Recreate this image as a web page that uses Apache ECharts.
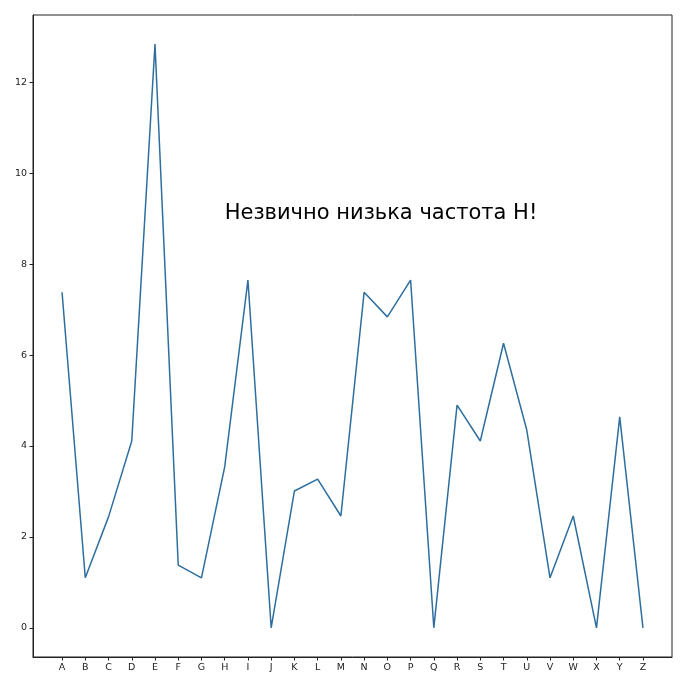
<!DOCTYPE html>
<html lang="uk">
<head>
    <meta charset="UTF-8">
    <title>Частота літер</title>
    <style>
        html,body{
            margin: 0;
            width: 100%;
            height: 100%;
            background: #fff;
        }
        #chartmain{
            width: 684px;
            height: 691px;
        }
    </style>
</head>
<body>
<div id="chartmain"></div>
<script src="https://cdn.jsdelivr.net/npm/echarts@6/dist/echarts.min.js"></script>
<script type="text/javascript">
    // літери по осі x
    var letters = ['A','B','C','D','E','F','G','H','I','J','K','L','M',
                   'N','O','P','Q','R','S','T','U','V','W','X','Y','Z'];
    // частоти
    var freqs = [7.38, 1.10, 2.44, 4.11, 12.84, 1.38, 1.10, 3.54, 7.65, 0,
                 3.01, 3.27, 2.46, 7.38, 6.84, 7.65, 0, 4.90, 4.11, 6.26,
                 4.35, 1.10, 2.46, 0, 4.64, 0];
    var yTicks = [0, 2, 4, 6, 8, 10, 12];
    var note = 'Незвично низька частота H!';
    var noteAt = [7, 9];

    var points = [];
    for (let i = 0; i < letters.length; i++) {
        points.push([i, freqs[i]]);
    }
    var xTicks = letters.map(function (l, i) { return i; });

    var option = {
        animation: false,
        grid: {
            left: 33, right: 12, top: 15, bottom: 34,
            show: true, borderColor: '#222', borderWidth: 1
        },
        xAxis: {
            type: 'value',
            min: -1.25,
            max: 26.25,
            splitLine: {show: false},
            axisLine: {show: true, onZero: false, lineStyle: {color: '#222'}},
            axisTick: {show: true, customValues: xTicks, length: 3.5, lineStyle: {color: '#222'}},
            axisLabel: {
                customValues: xTicks,
                color: '#222', fontSize: 9.5, fontFamily: 'DejaVu Sans', margin: 6,
                formatter: function (v) { return letters[Math.round(v)]; }
            }
        },
        yAxis: {
            type: 'value',
            min: -0.642,
            max: 13.48,
            splitLine: {show: false},
            axisLine: {show: true, onZero: false, lineStyle: {color: '#222'}},
            axisTick: {show: true, customValues: yTicks, length: 3.5, lineStyle: {color: '#222'}},
            axisLabel: {
                customValues: yTicks,
                color: '#222', fontSize: 9.5, fontFamily: 'DejaVu Sans', margin: 6
            }
        },
        series: [{
            type: 'line',
            data: points,
            symbol: 'none',
            lineStyle: {color: '#2e6e9e', width: 1.5},
            markPoint: {
                symbol: 'circle',
                symbolSize: 0,
                data: [{coord: noteAt}],
                label: {
                    show: true,
                    formatter: note,
                    position: [0, 0],
                    align: 'left',
                    verticalAlign: 'bottom',
                    offset: [0, 5],
                    color: '#000',
                    fontSize: 21,
                    fontFamily: 'DejaVu Sans'
                }
            }
        }]
    };

    var myChart = echarts.init(document.getElementById('chartmain'));
    myChart.setOption(option);
</script>
</body>
</html>
